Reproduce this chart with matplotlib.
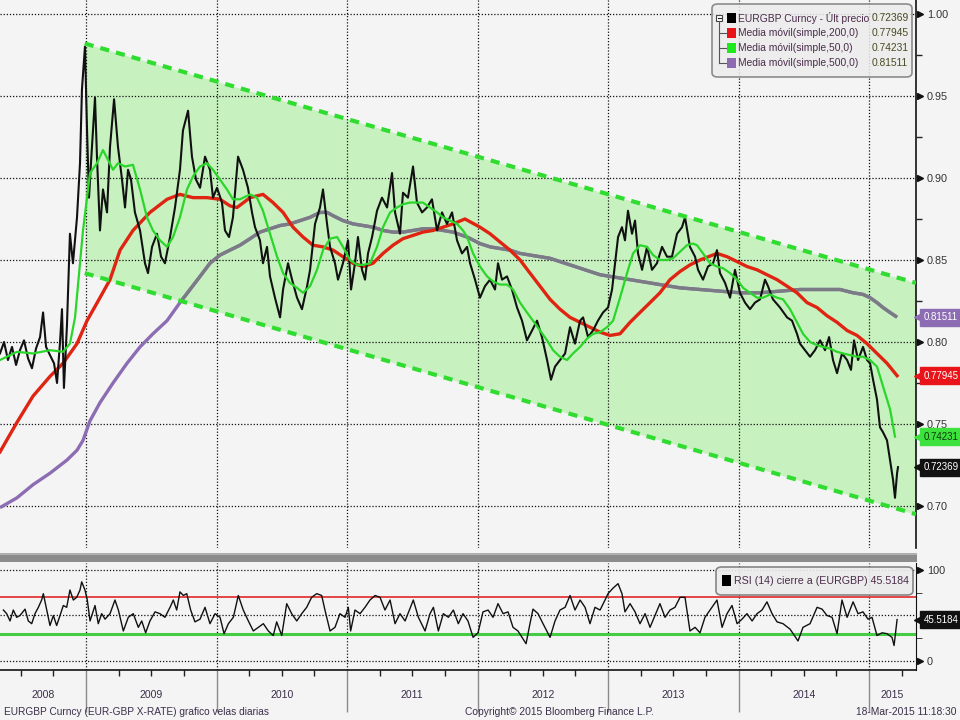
import matplotlib
matplotlib.use('Agg')
import matplotlib.pyplot as plt
import matplotlib.transforms as mtransforms
from matplotlib.patches import Rectangle, FancyBboxPatch
from matplotlib.lines import Line2D

plt.rcParams['font.family'] = ['Liberation Sans', 'DejaVu Sans']

# ---- data (decimal years) ----
price_t = [2008.341, 2008.372, 2008.402, 2008.433, 2008.464, 2008.494, 2008.525, 2008.556, 2008.586, 2008.617,
           2008.648, 2008.671, 2008.694, 2008.724, 2008.755, 2008.778, 2008.801, 2008.816, 2008.831, 2008.854,
           2008.877, 2008.900, 2008.931, 2008.954, 2008.969, 2008.992, 2009.008, 2009.023, 2009.038, 2009.069,
           2009.084, 2009.107, 2009.130, 2009.161, 2009.184, 2009.215, 2009.245, 2009.276, 2009.299, 2009.322,
           2009.345, 2009.375, 2009.414, 2009.452, 2009.475, 2009.506, 2009.544, 2009.575, 2009.605, 2009.644,
           2009.682, 2009.720, 2009.743, 2009.782, 2009.812, 2009.843, 2009.874, 2009.912, 2009.950, 2009.973,
           2010.004, 2010.042, 2010.065, 2010.096, 2010.126, 2010.165, 2010.203, 2010.241, 2010.272, 2010.295,
           2010.333, 2010.356, 2010.387, 2010.410, 2010.448, 2010.487, 2010.510, 2010.548, 2010.579, 2010.617,
           2010.655, 2010.694, 2010.717, 2010.755, 2010.793, 2010.816, 2010.847, 2010.870, 2010.908, 2010.931,
           2010.969, 2011.008, 2011.031, 2011.061, 2011.084, 2011.115, 2011.138, 2011.161, 2011.192, 2011.230,
           2011.268, 2011.307, 2011.345, 2011.368, 2011.406, 2011.429, 2011.467, 2011.506, 2011.536, 2011.575,
           2011.613, 2011.651, 2011.690, 2011.728, 2011.766, 2011.805, 2011.843, 2011.881, 2011.920, 2011.943,
           2011.981, 2012.019, 2012.057, 2012.096, 2012.134, 2012.157, 2012.188, 2012.226, 2012.264, 2012.303,
           2012.341, 2012.379, 2012.418, 2012.456, 2012.494, 2012.533, 2012.563, 2012.594, 2012.632, 2012.671,
           2012.709, 2012.747, 2012.786, 2012.809, 2012.847, 2012.885, 2012.923, 2012.962, 2013.000, 2013.031,
           2013.054, 2013.077, 2013.107, 2013.130, 2013.153, 2013.184, 2013.207, 2013.230, 2013.261, 2013.299,
           2013.337, 2013.375, 2013.414, 2013.452, 2013.490, 2013.529, 2013.567, 2013.590, 2013.628, 2013.667,
           2013.690, 2013.728, 2013.766, 2013.805, 2013.835, 2013.858, 2013.897, 2013.935, 2013.973, 2014.011,
           2014.050, 2014.088, 2014.126, 2014.165, 2014.203, 2014.226, 2014.264, 2014.318, 2014.372, 2014.410,
           2014.448, 2014.471, 2014.510, 2014.548, 2014.586, 2014.625, 2014.663, 2014.694, 2014.724, 2014.755,
           2014.793, 2014.832, 2014.862, 2014.885, 2014.916, 2014.954, 2014.985, 2015.008, 2015.031, 2015.061,
           2015.084, 2015.107, 2015.138, 2015.161, 2015.184, 2015.199, 2015.215, 2015.222]
price_v = [0.793, 0.800, 0.789, 0.797, 0.786, 0.795, 0.801, 0.790, 0.784, 0.796,
           0.803, 0.818, 0.797, 0.792, 0.787, 0.775, 0.800, 0.820, 0.772, 0.810,
           0.866, 0.848, 0.876, 0.909, 0.954, 0.980, 0.929, 0.888, 0.909, 0.949,
           0.913, 0.868, 0.893, 0.879, 0.919, 0.948, 0.919, 0.899, 0.882, 0.905,
           0.899, 0.879, 0.868, 0.848, 0.842, 0.858, 0.866, 0.852, 0.848, 0.864,
           0.882, 0.905, 0.929, 0.941, 0.913, 0.899, 0.894, 0.913, 0.905, 0.888,
           0.894, 0.885, 0.868, 0.864, 0.876, 0.913, 0.905, 0.894, 0.879, 0.870,
           0.862, 0.848, 0.858, 0.840, 0.827, 0.815, 0.832, 0.848, 0.838, 0.827,
           0.820, 0.834, 0.844, 0.872, 0.882, 0.893, 0.872, 0.858, 0.848, 0.838,
           0.848, 0.862, 0.832, 0.848, 0.864, 0.844, 0.838, 0.854, 0.864, 0.880,
           0.888, 0.882, 0.903, 0.879, 0.866, 0.891, 0.888, 0.907, 0.885, 0.879,
           0.882, 0.887, 0.868, 0.879, 0.872, 0.879, 0.862, 0.854, 0.858, 0.848,
           0.838, 0.827, 0.834, 0.838, 0.832, 0.848, 0.838, 0.840, 0.832, 0.821,
           0.813, 0.801, 0.807, 0.813, 0.803, 0.789, 0.777, 0.785, 0.789, 0.793,
           0.809, 0.799, 0.813, 0.815, 0.803, 0.807, 0.813, 0.818, 0.821, 0.832,
           0.848, 0.864, 0.870, 0.862, 0.880, 0.866, 0.874, 0.854, 0.844, 0.858,
           0.844, 0.848, 0.858, 0.852, 0.852, 0.866, 0.870, 0.876, 0.858, 0.852,
           0.844, 0.838, 0.846, 0.848, 0.856, 0.842, 0.836, 0.827, 0.844, 0.830,
           0.824, 0.820, 0.824, 0.826, 0.838, 0.834, 0.826, 0.821, 0.815, 0.813,
           0.805, 0.799, 0.795, 0.791, 0.795, 0.801, 0.795, 0.803, 0.789, 0.781,
           0.793, 0.789, 0.783, 0.801, 0.789, 0.797, 0.789, 0.787, 0.777, 0.765,
           0.748, 0.745, 0.740, 0.728, 0.716, 0.705, 0.720, 0.72369]

ma200_t = [2008.341, 2008.471, 2008.594, 2008.724, 2008.824, 2008.931, 2009.008, 2009.107, 2009.184, 2009.261,
           2009.360, 2009.490, 2009.621, 2009.720, 2009.820, 2009.927, 2010.027, 2010.103, 2010.157, 2010.257,
           2010.356, 2010.433, 2010.510, 2010.586, 2010.663, 2010.739, 2010.816, 2010.893, 2010.969, 2011.046,
           2011.123, 2011.199, 2011.276, 2011.352, 2011.429, 2011.506, 2011.582, 2011.659, 2011.736, 2011.812,
           2011.904, 2012.019, 2012.096, 2012.172, 2012.249, 2012.326, 2012.402, 2012.479, 2012.556, 2012.632,
           2012.709, 2012.786, 2012.862, 2012.939, 2013.015, 2013.092, 2013.169, 2013.245, 2013.322, 2013.398,
           2013.475, 2013.552, 2013.628, 2013.705, 2013.835, 2013.912, 2013.989, 2014.065, 2014.142, 2014.218,
           2014.295, 2014.372, 2014.448, 2014.525, 2014.602, 2014.678, 2014.755, 2014.832, 2014.908, 2014.985,
           2015.061, 2015.138, 2015.215]
ma200_v = [0.733, 0.751, 0.767, 0.779, 0.787, 0.799, 0.813, 0.827, 0.838, 0.856,
           0.868, 0.879, 0.887, 0.890, 0.888, 0.888, 0.887, 0.883, 0.882, 0.888,
           0.890, 0.885, 0.879, 0.870, 0.864, 0.859, 0.858, 0.856, 0.852, 0.848,
           0.846, 0.848, 0.854, 0.859, 0.863, 0.865, 0.867, 0.868, 0.870, 0.872,
           0.875, 0.870, 0.866, 0.861, 0.856, 0.850, 0.842, 0.834, 0.826, 0.820,
           0.815, 0.812, 0.809, 0.806, 0.804, 0.805, 0.812, 0.818, 0.824, 0.830,
           0.838, 0.843, 0.847, 0.850, 0.854, 0.852, 0.849, 0.846, 0.844, 0.841,
           0.838, 0.834, 0.830, 0.824, 0.821, 0.816, 0.812, 0.807, 0.804, 0.799,
           0.793, 0.787, 0.77945]

ma50_t = [2008.341, 2008.471, 2008.594, 2008.724, 2008.824, 2008.877, 2008.916, 2008.954, 2008.977, 2009.008,
          2009.031, 2009.084, 2009.130, 2009.169, 2009.207, 2009.245, 2009.299, 2009.360, 2009.414, 2009.467,
          2009.513, 2009.567, 2009.621, 2009.667, 2009.720, 2009.774, 2009.820, 2009.874, 2009.927, 2009.973,
          2010.027, 2010.080, 2010.126, 2010.180, 2010.257, 2010.310, 2010.356, 2010.410, 2010.464, 2010.510,
          2010.563, 2010.617, 2010.663, 2010.717, 2010.770, 2010.816, 2010.870, 2010.924, 2010.969, 2011.023,
          2011.077, 2011.123, 2011.176, 2011.230, 2011.276, 2011.330, 2011.383, 2011.429, 2011.483, 2011.536,
          2011.582, 2011.636, 2011.690, 2011.736, 2011.789, 2011.843, 2011.889, 2011.920, 2011.966, 2012.019,
          2012.073, 2012.119, 2012.172, 2012.226, 2012.272, 2012.326, 2012.379, 2012.425, 2012.479, 2012.533,
          2012.579, 2012.632, 2012.686, 2012.732, 2012.786, 2012.839, 2012.885, 2012.939, 2012.992, 2013.039,
          2013.092, 2013.146, 2013.192, 2013.245, 2013.299, 2013.345, 2013.398, 2013.452, 2013.498, 2013.552,
          2013.605, 2013.651, 2013.682, 2013.728, 2013.782, 2013.835, 2013.881, 2013.935, 2013.989, 2014.035,
          2014.088, 2014.142, 2014.188, 2014.241, 2014.295, 2014.341, 2014.395, 2014.448, 2014.494, 2014.548,
          2014.602, 2014.648, 2014.701, 2014.755, 2014.801, 2014.855, 2014.908, 2014.954, 2015.008, 2015.061,
          2015.107, 2015.161, 2015.199]
ma50_v = [0.789, 0.794, 0.793, 0.795, 0.794, 0.799, 0.815, 0.848, 0.868, 0.888,
          0.903, 0.909, 0.917, 0.911, 0.905, 0.909, 0.907, 0.908, 0.893, 0.876,
          0.868, 0.862, 0.858, 0.864, 0.876, 0.893, 0.901, 0.907, 0.909, 0.905,
          0.899, 0.893, 0.887, 0.887, 0.890, 0.888, 0.880, 0.866, 0.852, 0.842,
          0.836, 0.833, 0.830, 0.834, 0.844, 0.856, 0.863, 0.864, 0.858, 0.850,
          0.847, 0.847, 0.848, 0.858, 0.870, 0.879, 0.882, 0.884, 0.885, 0.885,
          0.885, 0.882, 0.879, 0.876, 0.874, 0.872, 0.868, 0.864, 0.854, 0.846,
          0.840, 0.837, 0.835, 0.835, 0.832, 0.824, 0.818, 0.813, 0.807, 0.801,
          0.795, 0.791, 0.789, 0.793, 0.797, 0.802, 0.805, 0.806, 0.809, 0.813,
          0.827, 0.842, 0.854, 0.859, 0.858, 0.853, 0.850, 0.850, 0.851, 0.855,
          0.859, 0.860, 0.859, 0.854, 0.848, 0.846, 0.845, 0.842, 0.838, 0.833,
          0.830, 0.827, 0.827, 0.829, 0.827, 0.826, 0.820, 0.812, 0.805, 0.800,
          0.798, 0.797, 0.796, 0.794, 0.793, 0.792, 0.791, 0.791, 0.789, 0.785,
          0.773, 0.759, 0.74231]

ma500_t = [2008.341, 2008.471, 2008.594, 2008.724, 2008.854, 2008.931, 2008.977, 2009.031, 2009.107, 2009.207,
           2009.314, 2009.414, 2009.513, 2009.621, 2009.720, 2009.797, 2009.874, 2009.950, 2010.027, 2010.103,
           2010.180, 2010.257, 2010.333, 2010.410, 2010.487, 2010.563, 2010.640, 2010.717, 2010.793, 2010.847,
           2010.893, 2010.969, 2011.046, 2011.123, 2011.199, 2011.276, 2011.352, 2011.429, 2011.506, 2011.582,
           2011.659, 2011.736, 2011.812, 2011.920, 2012.019, 2012.096, 2012.172, 2012.249, 2012.326, 2012.402,
           2012.479, 2012.556, 2012.632, 2012.709, 2012.786, 2012.862, 2012.939, 2013.015, 2013.092, 2013.169,
           2013.245, 2013.322, 2013.398, 2013.475, 2013.552, 2013.705, 2013.858, 2014.011, 2014.165, 2014.318,
           2014.471, 2014.625, 2014.778, 2014.878, 2014.954, 2015.008, 2015.061, 2015.107, 2015.161, 2015.215]
ma500_v = [0.699, 0.705, 0.713, 0.720, 0.728, 0.734, 0.740, 0.752, 0.763, 0.775,
           0.787, 0.797, 0.805, 0.813, 0.824, 0.832, 0.840, 0.848, 0.853, 0.856,
           0.859, 0.863, 0.867, 0.869, 0.871, 0.872, 0.874, 0.876, 0.879, 0.879,
           0.877, 0.874, 0.872, 0.871, 0.870, 0.868, 0.867, 0.867, 0.868, 0.869,
           0.869, 0.868, 0.867, 0.864, 0.860, 0.858, 0.857, 0.856, 0.854, 0.853,
           0.852, 0.851, 0.849, 0.847, 0.845, 0.843, 0.841, 0.840, 0.839, 0.838,
           0.837, 0.836, 0.835, 0.834, 0.833, 0.832, 0.831, 0.830, 0.830, 0.831,
           0.832, 0.832, 0.832, 0.830, 0.829, 0.827, 0.824, 0.821, 0.818, 0.81511]

# trend channel (start / end)
chan_t = [2008.99, 2015.36]
chan_up = [0.982, 0.836]
chan_lo = [0.842, 0.695]

rsi_t = [2008.367, 2008.392, 2008.418, 2008.443, 2008.469, 2008.494, 2008.533, 2008.558, 2008.584, 2008.609,
         2008.635, 2008.660, 2008.673, 2008.699, 2008.724, 2008.750, 2008.775, 2008.801, 2008.826, 2008.852,
         2008.877, 2008.903, 2008.929, 2008.954, 2008.967, 2008.992, 2009.010, 2009.031, 2009.069, 2009.094,
         2009.120, 2009.146, 2009.184, 2009.222, 2009.248, 2009.286, 2009.324, 2009.362, 2009.401, 2009.427,
         2009.457, 2009.490, 2009.529, 2009.567, 2009.605, 2009.644, 2009.669, 2009.695, 2009.720, 2009.746,
         2009.772, 2009.802, 2009.835, 2009.874, 2009.912, 2009.950, 2009.989, 2010.027, 2010.058, 2010.091,
         2010.129, 2010.167, 2010.205, 2010.244, 2010.282, 2010.320, 2010.359, 2010.397, 2010.435, 2010.461,
         2010.500, 2010.538, 2010.576, 2010.615, 2010.653, 2010.691, 2010.729, 2010.768, 2010.806, 2010.831,
         2010.870, 2010.908, 2010.946, 2010.985, 2011.010, 2011.028, 2011.061, 2011.100, 2011.138, 2011.176,
         2011.215, 2011.253, 2011.291, 2011.330, 2011.368, 2011.406, 2011.445, 2011.508, 2011.547, 2011.598,
         2011.636, 2011.662, 2011.700, 2011.738, 2011.777, 2011.815, 2011.853, 2011.889, 2011.927, 2011.966,
         2012.004, 2012.042, 2012.081, 2012.119, 2012.157, 2012.196, 2012.234, 2012.272, 2012.310, 2012.341,
         2012.372, 2012.402, 2012.425, 2012.464, 2012.502, 2012.556, 2012.594, 2012.632, 2012.671, 2012.709,
         2012.747, 2012.786, 2012.824, 2012.862, 2012.900, 2012.939, 2012.977, 2013.000, 2013.038, 2013.077,
         2013.107, 2013.130, 2013.169, 2013.207, 2013.245, 2013.284, 2013.322, 2013.360, 2013.398, 2013.437,
         2013.475, 2013.513, 2013.552, 2013.590, 2013.628, 2013.667, 2013.705, 2013.743, 2013.782, 2013.835,
         2013.874, 2013.912, 2013.950, 2013.989, 2014.027, 2014.065, 2014.104, 2014.142, 2014.180, 2014.218,
         2014.257, 2014.295, 2014.341, 2014.395, 2014.456, 2014.494, 2014.548, 2014.602, 2014.640, 2014.678,
         2014.717, 2014.755, 2014.793, 2014.832, 2014.878, 2014.916, 2014.954, 2014.992, 2015.023, 2015.061,
         2015.100, 2015.138, 2015.176, 2015.192, 2015.215]
rsi_v = [56, 52, 44, 56, 48, 50, 57, 44, 41, 52,
         59, 67, 74, 56, 39, 50, 39, 50, 61, 59,
         78, 67, 70, 78, 87, 78, 67, 44, 61, 41,
         52, 46, 52, 67, 56, 33, 48, 52, 37, 44,
         31, 44, 54, 52, 48, 59, 67, 56, 76, 72,
         74, 56, 43, 46, 59, 41, 52, 48, 30, 41,
         48, 72, 56, 44, 33, 37, 41, 33, 28, 43,
         28, 63, 52, 44, 52, 59, 70, 74, 72, 56,
         33, 37, 52, 48, 59, 33, 56, 52, 59, 67,
         72, 70, 56, 67, 41, 52, 44, 67, 48, 33,
         52, 59, 33, 52, 48, 56, 41, 52, 44, 26,
         31, 54, 56, 48, 63, 52, 54, 37, 33, 26,
         19, 41, 57, 52, 41, 26, 44, 56, 59, 72,
         56, 67, 59, 41, 59, 56, 67, 74, 80, 85,
         74, 54, 63, 54, 41, 52, 37, 50, 63, 48,
         56, 59, 70, 70, 33, 37, 31, 48, 56, 67,
         37, 52, 61, 41, 46, 52, 44, 52, 56, 65,
         52, 43, 41, 35, 22, 37, 41, 59, 57, 50,
         48, 30, 67, 48, 65, 52, 54, 46, 48, 28,
         31, 30, 26, 17, 45.5184]

years = [2008, 2009, 2010, 2011, 2012, 2013, 2014, 2015]
year_label_pos = [2008.67, 2009.5, 2010.5, 2011.5, 2012.5, 2013.5, 2014.5, 2015.18]
main_ticks = [0.70, 0.75, 0.80, 0.85, 0.90, 0.95, 1.00]
main_tick_labels = ['0.70', '0.75', '0.80', '0.85', '0.90', '0.95', '1.00']

legend_names = ['EURGBP Curncy - Últ precio', 'Media móvil(simple,200,0)',
                'Media móvil(simple,50,0)', 'Media móvil(simple,500,0)']
legend_values = ['0.72369', '0.77945', '0.74231', '0.81511']
rsi_last = '45.5184'

BG = '#f4f4f4'
TXT = '#3b2f4a'
C_PRICE = '#111111'
C_RED = '#df2412'
C_GREEN = '#2ad62a'
C_PURPLE = '#8c6db3'
C_GRAY = '#7b7b85'
C_CHAN = '#30dc30'
C_FILL = '#c8f1c0'

W, H = 960, 720


def fx(px):
    return px / W


def fy(py):
    return 1 - py / H


fig = plt.figure(figsize=(9.6, 7.2), dpi=100, facecolor=BG)
ax = fig.add_axes([0, fy(548), fx(916), 548 / H], facecolor=BG)
rax = fig.add_axes([0, fy(670), fx(916), 107 / H], facecolor=BG, sharex=ax)

xmin, xmax = 2008.341, 2015.360
ax.set_xlim(xmin, xmax)
ax.set_ylim(0.6744, 1.0085)

# channel fill and MAs
fill = ax.fill_between(chan_t, chan_lo, chan_up, color=C_FILL, lw=0, zorder=1)
ax.plot(ma500_t, ma500_v, color=C_PURPLE, lw=2.4, zorder=3, solid_capstyle='butt')
gray_line, = ax.plot(ma500_t, ma500_v, color=C_GRAY, lw=2.4, zorder=3.1, solid_capstyle='butt')
gray_line.set_clip_path(fill.get_paths()[0], ax.transData)
ax.plot(ma200_t, ma200_v, color=C_RED, lw=2.4, zorder=3.2)
ax.plot(price_t, price_v, color=C_PRICE, lw=1.5, zorder=3.5)
ax.plot(ma50_t, ma50_v, color=C_GREEN, lw=1.6, zorder=3.6)
ax.plot(chan_t, chan_up, color=C_CHAN, lw=3, ls=(0, (2.2, 1.7)), zorder=4)
ax.plot(chan_t, chan_lo, color=C_CHAN, lw=3, ls=(0, (2.2, 1.7)), zorder=4)

# grid and axes
ax.set_yticks(main_ticks)
ax.set_yticklabels(main_tick_labels)
ax.set_yticks([0.725, 0.775, 0.825, 0.875, 0.925, 0.975], minor=True)
ax.set_xticks(years[1:])
ax.grid(True, ls=(0, (1, 1.5)), color='#111111', lw=0.9, zorder=2)
ax.set_axisbelow(False)
for gl in ax.get_xgridlines() + ax.get_ygridlines():
    gl.set_zorder(2)
ax.yaxis.tick_right()
ax.tick_params(axis='y', which='major', length=0, pad=8, labelsize=7.8, labelcolor='#333333')
ax.tick_params(axis='y', which='minor', length=4, width=1, color='#222222', direction='out')
ax.tick_params(axis='x', which='both', length=0, labelbottom=False)
for s in ['top', 'left', 'bottom']:
    ax.spines[s].set_visible(False)
ax.spines['right'].set_color('#111111')
ax.spines['right'].set_linewidth(1.2)

tr_main = mtransforms.blended_transform_factory(ax.transAxes, ax.transData)
ax.plot([1.0048] * len(main_ticks), main_ticks, ls='none', marker='>', ms=5, color='#111111',
        transform=tr_main, clip_on=False)

# value tags on the right
tags = [(float(legend_values[3]), legend_values[3], C_PURPLE, 'white'),
        (float(legend_values[1]), legend_values[1], '#e8141a', 'white'),
        (float(legend_values[2]), legend_values[2], '#3ee23e', '#0c3a0c'),
        (float(legend_values[0]), legend_values[0], '#111111', 'white')]
for val, txt, fc, tc in tags:
    ax.plot([1.0055], [val], marker='<', ms=10, color=fc, transform=tr_main, clip_on=False, zorder=6)
    ax.text(1.0085, val, txt, transform=tr_main, ha='left', va='center', fontsize=7, color=tc,
            bbox=dict(boxstyle='square,pad=0.35', fc=fc, ec=fc), zorder=7, clip_on=False)

# RSI panel
rax.set_ylim(-9.9, 107.7)
rax.plot(rsi_t, rsi_v, color='#111111', lw=1.0, zorder=3)
rax.axhline(70, color='#e22828', lw=1.2, zorder=2.5)
rax.axhline(30, color='#44cc44', lw=2.2, zorder=2.5)
rax.set_yticks([0, 50, 100])
rax.set_yticklabels(['0', '', '100'])
rax.set_yticks([25, 75], minor=True)
rax.yaxis.tick_right()
rax.grid(True, ls=(0, (1, 1.5)), color='#111111', lw=0.9)
rax.set_axisbelow(True)
rax.tick_params(axis='y', which='major', length=0, pad=8, labelsize=7.8, labelcolor='#333333')
rax.tick_params(axis='y', which='minor', length=4, color='#222222')
rax.set_xticks(years[1:])
rax.set_xticks([y + q for y in years for q in (0.25, 0.5, 0.75)], minor=True)
rax.tick_params(axis='x', which='major', length=30, width=1, color='#8a8a8a', labelbottom=False)
rax.tick_params(axis='x', which='minor', length=4, width=1, color='#222222')
rax.set_xlim(xmin, xmax)
for s in ['top', 'left']:
    rax.spines[s].set_visible(False)
rax.spines['right'].set_color('#111111')
rax.spines['bottom'].set_color('#111111')
rax.spines['bottom'].set_linewidth(1.2)
tr_rsi = mtransforms.blended_transform_factory(rax.transAxes, rax.transData)
rax.plot([1.0048, 1.0048], [0, 100], ls='none', marker='>', ms=5, color='#111111',
         transform=tr_rsi, clip_on=False)
rax.plot([1.0055], [rsi_v[-1]], marker='<', ms=10, color='#111111', transform=tr_rsi, clip_on=False)
rax.text(1.0085, rsi_v[-1], rsi_last, transform=tr_rsi, ha='left', va='center', fontsize=7,
         color='white', bbox=dict(boxstyle='square,pad=0.35', fc='#111111', ec='#111111'), clip_on=False)

tr_yr = mtransforms.blended_transform_factory(rax.transData, rax.transAxes)
for yl, pos in zip(years, year_label_pos):
    rax.text(pos, -0.235, str(yl), transform=tr_yr, ha='center', va='center', fontsize=7.6, color=TXT)

# separator bar between panels
fig.patches.append(Rectangle((0, fy(562)), fx(917), 9 / H, transform=fig.transFigure,
                             fc='#8c8c8c', ec='none'))
fig.patches.append(Rectangle((0, fy(555)), fx(917), 2 / H, transform=fig.transFigure,
                             fc='#b0b0b0', ec='none'))

# main legend box
fig.patches.append(FancyBboxPatch((fx(712), fy(77)), fx(200), 73 / H, transform=fig.transFigure,
                                  boxstyle='round,pad=0,rounding_size=0.006', fc='#ececec', ec='#7a7a7a',
                                  lw=1.2, alpha=0.85))
rows = [18, 33, 48, 63]
sq_colors = ['#000000', '#e8141a', '#1ee81e', '#8c6bb1']
fig.lines.append(Line2D([fx(719), fx(719)], [fy(21), fy(63)], transform=fig.transFigure,
                        color='#555555', lw=0.8))
for r in rows[1:]:
    fig.lines.append(Line2D([fx(719), fx(726)], [fy(r), fy(r)], transform=fig.transFigure,
                            color='#555555', lw=0.8))
fig.patches.append(Rectangle((fx(716), fy(21)), 6 / W, 6 / H, transform=fig.transFigure,
                             fc='white', ec='#444444', lw=0.8))
fig.lines.append(Line2D([fx(717.5), fx(720.5)], [fy(18), fy(18)], transform=fig.transFigure,
                        color='#222222', lw=0.8))
for r, c, name, val in zip(rows, sq_colors, legend_names, legend_values):
    fig.patches.append(Rectangle((fx(727), fy(r + 5)), 9 / W, 10 / H, transform=fig.transFigure,
                                 fc=c, ec='none'))
    fig.text(fx(738), fy(r), name, fontsize=7.4, color='#4a2c4a', va='center', ha='left')
    fig.text(fx(872), fy(r), val, fontsize=7.4, color='#4a4a22', va='center', ha='left')

# RSI legend box
fig.patches.append(FancyBboxPatch((fx(716), fy(595)), fx(197), 28 / H, transform=fig.transFigure,
                                  boxstyle='round,pad=0,rounding_size=0.006', fc='#ececec', ec='#7a7a7a',
                                  lw=1.2, alpha=0.9))
fig.patches.append(Rectangle((fx(722), fy(586)), 9 / W, 11 / H, transform=fig.transFigure,
                             fc='#000000', ec='none'))
fig.text(fx(734), fy(581), 'RSI (14) cierre a (EURGBP) ' + rsi_last, fontsize=7.7, color='#4a2c4a',
         va='center', ha='left')

# footer
fig.text(fx(4), fy(712), 'EURGBP Curncy (EUR-GBP X-RATE) grafico velas diarias', fontsize=7.3,
         color=TXT, va='center', ha='left')
fig.text(fx(559), fy(712), 'Copyright© 2015 Bloomberg Finance L.P.', fontsize=7.4, color=TXT,
         va='center', ha='center')
fig.text(fx(957), fy(712), '18-Mar-2015 11:18:30', fontsize=7.4, color=TXT, va='center', ha='right')

fig.savefig('out.png', dpi=100, facecolor=BG)
